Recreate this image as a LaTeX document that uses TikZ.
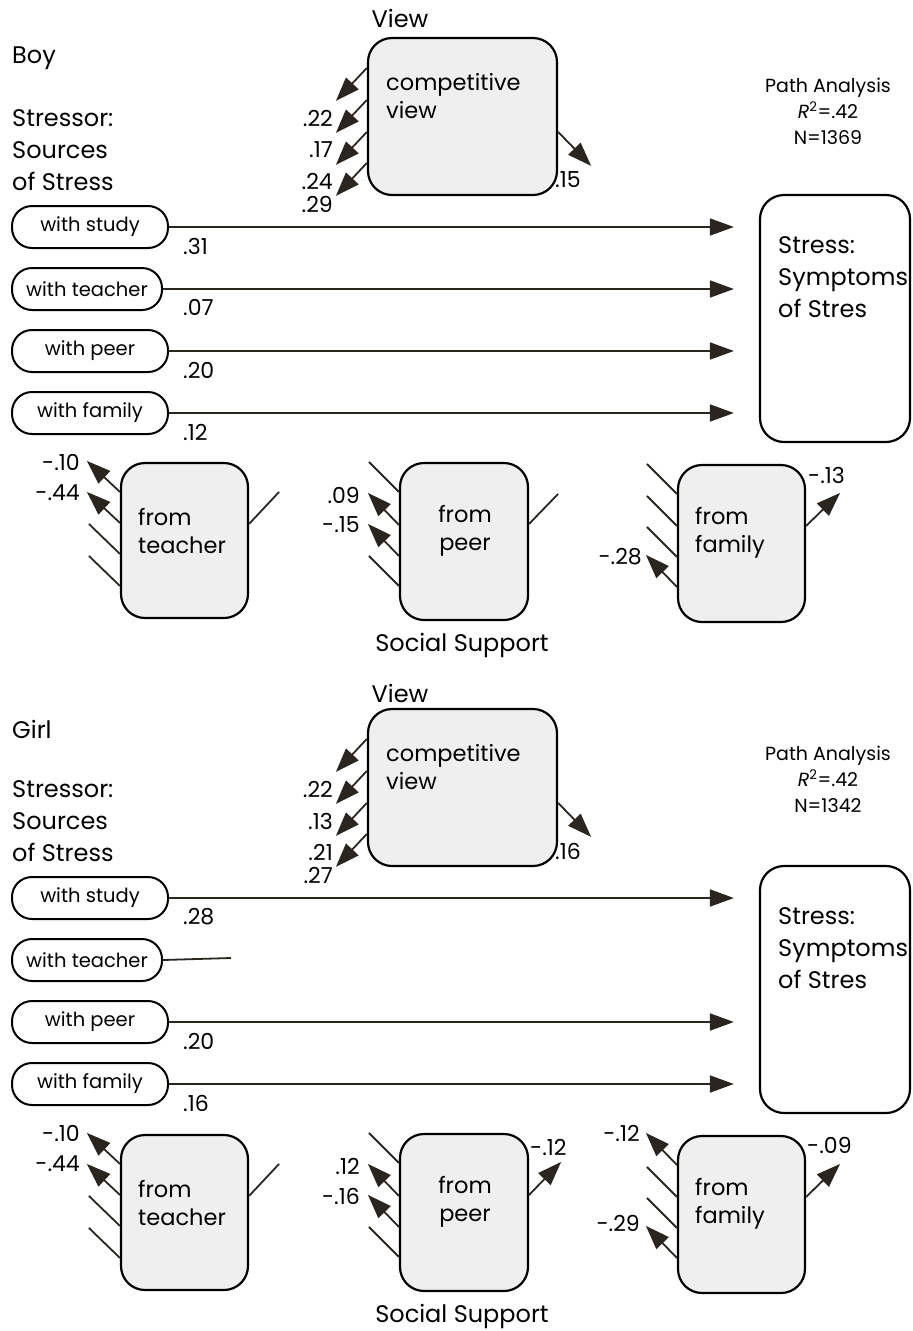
\documentclass[tikz,border=0pt]{standalone}
\usepackage{fontspec}
\setmainfont{Poppins}
\usetikzlibrary{arrows.meta,calc}
\definecolor{boxgray}{HTML}{EFEFEF}
\definecolor{linec}{HTML}{2B2520}
\begin{document}
\begin{tikzpicture}[x=1pt,y=-1pt,
  gbox/.style={draw=black, line width=2.2pt, fill=boxgray, rounded corners=24pt, inner sep=0pt},
  wbox/.style={draw=black, line width=2.2pt, fill=white, rounded corners=24pt, inner sep=0pt},
  oval/.style={draw=black, line width=2pt, fill=white, rounded corners=20pt, inner sep=0pt, minimum height=42pt, font=\fontsize{19.5}{22}\selectfont},
  arr/.style={draw=linec, line width=1.8pt, -{Triangle[length=24pt,width=17pt]}},
  pl/.style={draw=linec, line width=1.8pt},
  big/.style={inner sep=0pt, font=\fontsize{24}{32}\selectfont},
  num/.style={inner sep=0pt, font=\fontsize{22}{24}\selectfont},
  small/.style={inner sep=0pt, font=\fontsize{19}{26}\selectfont},
  btxt/.style={inner sep=0pt, font=\fontsize{22.5}{28}\selectfont}]
\useasboundingbox (0,0) rectangle (913,1331);

% ================= panel 1 (Boy) =================
\begin{scope}
\node[big, anchor=west] (t1) at (12,58) {Boy};
\node[big] (v1) at (400,18) {View};
\node[big, anchor=west, align=left] (s1) at (12,150) {Stressor:\\Sources\\of Stress};
\node[small, align=center] (pa1) at (828,111) {Path Analysis\\\textit{R}\textsuperscript{2}=.42\\N=1369};

\node[gbox, minimum width=189pt, minimum height=157pt] (cv1) at (462.5,116.5) {};
\node[btxt, anchor=west, align=left] (cvt1) at (386,96) {competitive\\view};
\draw[arr] ($(cv1.north west)+(0,31)$) -- ++(-31,33);
\draw[arr] ($(cv1.north west)+(0,63)$) -- ++(-31,33);
\draw[arr] ($(cv1.north west)+(0,95)$) -- ++(-31,33);
\draw[arr] ($(cv1.north west)+(0,126)$) -- ++(-31,33);
\node[num, anchor=east] (c1a) at (333,118) {.22};
\node[num, anchor=east] (c1b) at (333,150) {.17};
\node[num, anchor=east] (c1c) at (333,181) {.24};
\node[num, anchor=east] (c1d) at (333,204) {.29};
\draw[arr] ($(cv1.north east)+(0,95)$) -- ++(33,34);
\node[num, anchor=west] (c1e) at (555,180) {.15};

\node[wbox, minimum width=150pt, minimum height=247pt] (sb1) at (835,318.5) {};
\node[big, anchor=west, align=left] (sbt1) at (778,277) {Stress:\\Symptoms\\of Stres};

\node[oval, minimum width=156pt] (os1) at (90,227) {with study};
\node[oval, minimum width=150pt] (ot1) at (87,289) {with teacher};
\node[oval, minimum width=156pt] (op1) at (90,351) {with peer};
\node[oval, minimum width=156pt] (of1) at (90,413) {with family};
\draw[arr] (os1.east) -- ($(sb1.west |- os1.east)+(-25,0)$);
\draw[arr] (ot1.east) -- ($(sb1.west |- ot1.east)+(-25,0)$);
\draw[arr] (op1.east) -- ($(sb1.west |- op1.east)+(-25,0)$);
\draw[arr] (of1.east) -- ($(sb1.west |- of1.east)+(-25,0)$);
\node[num, anchor=west] (l1a) at (183,246) {.31};
\node[num, anchor=west] (l1b) at (183,307) {.07};
\node[num, anchor=west] (l1c) at (183,370) {.20};
\node[num, anchor=west] (l1d) at (183,432) {.12};

% from teacher
\node[gbox, minimum width=127pt, minimum height=155pt] (tb1) at (184.5,540.5) {};
\node[btxt, anchor=west, align=left] (tbt1) at (138,531) {from\\teacher};
\draw[arr] ($(tb1.north west)+(0,30)$) -- ++(-33,-31);
\draw[arr] ($(tb1.north west)+(0,61)$) -- ++(-33,-31);
\draw[pl]  ($(tb1.north west)+(0,92)$) -- ++(-31,-30);
\draw[pl]  ($(tb1.north west)+(0,124)$) -- ++(-31,-30);
\draw[pl]  ($(tb1.north east)+(0,62)$) -- ++(30,-32);
\node[num, anchor=east] (tl1a) at (80,462) {-.10};
\node[num, anchor=east] (tl1b) at (80,493) {-.44};

% from peer
\node[gbox, minimum width=128pt, minimum height=157pt] (pb1) at (464,541.5) {};
\node[btxt, align=center] (pbt1) at (465,531) {from\\peer};
\draw[pl]  ($(pb1.north west)+(0,30)$) -- ++(-30,-30);
\draw[arr] ($(pb1.north west)+(0,63)$) -- ++(-31,-32);
\draw[arr] ($(pb1.north west)+(0,94)$) -- ++(-31,-32);
\draw[pl]  ($(pb1.north west)+(0,124)$) -- ++(-30,-30);
\draw[pl]  ($(pb1.north east)+(0,62)$) -- ++(29,-30);
\node[num, anchor=east] (pl1a) at (360,495) {.09};
\node[num, anchor=east] (pl1b) at (360,525) {-.15};

% from family
\node[gbox, minimum width=127pt, minimum height=157pt] (fb1) at (741.5,543.5) {};
\node[btxt, anchor=west, align=left] (fbt1) at (695,533) {from\\family};
\draw[pl]  ($(fb1.north west)+(0,30)$) -- ++(-30,-30);
\draw[pl]  ($(fb1.north west)+(0,62)$) -- ++(-30,-30);
\draw[pl]  ($(fb1.north west)+(0,93)$) -- ++(-30,-30);
\draw[arr] ($(fb1.north west)+(0,123)$) -- ++(-31,-32);
\draw[arr] ($(fb1.north east)+(0,62)$) -- ++(34,-33);
\node[num, anchor=east] (fl1a) at (642,557) {-.28};
\node[num, anchor=west] (fl1b) at (808,475) {-.13};

\node[big] (ss1) at (462,645) {Social Support};
\end{scope}

% ================= panel 2 (Girl) =================
\begin{scope}[shift={(0,671)}]
\node[big, anchor=west] (t2) at (12,58) {Girl};
\node[big] (v2) at (400,22) {View};
\node[big, anchor=west, align=left] (s2) at (12,150) {Stressor:\\Sources\\of Stress};
\node[small, align=center] (pa2) at (828,108) {Path Analysis\\\textit{R}\textsuperscript{2}=.42\\N=1342};

\node[gbox, minimum width=189pt, minimum height=157pt] (cv2) at (462.5,116.5) {};
\node[btxt, anchor=west, align=left] (cvt2) at (386,96) {competitive\\view};
\draw[arr] ($(cv2.north west)+(0,31)$) -- ++(-31,33);
\draw[arr] ($(cv2.north west)+(0,63)$) -- ++(-31,33);
\draw[arr] ($(cv2.north west)+(0,95)$) -- ++(-31,33);
\draw[arr] ($(cv2.north west)+(0,126)$) -- ++(-31,33);
\node[num, anchor=east] (c2a) at (333,118) {.22};
\node[num, anchor=east] (c2b) at (333,150) {.13};
\node[num, anchor=east] (c2c) at (333,181) {.21};
\node[num, anchor=east] (c2d) at (333,204) {.27};
\draw[arr] ($(cv2.north east)+(0,95)$) -- ++(33,34);
\node[num, anchor=west] (c2e) at (555,180) {.16};

\node[wbox, minimum width=150pt, minimum height=247pt] (sb2) at (835,318.5) {};
\node[big, anchor=west, align=left] (sbt2) at (778,277) {Stress:\\Symptoms\\of Stres};

\node[oval, minimum width=156pt] (os2) at (90,227) {with study};
\node[oval, minimum width=150pt] (ot2) at (87,289) {with teacher};
\node[oval, minimum width=156pt] (op2) at (90,351) {with peer};
\node[oval, minimum width=156pt] (of2) at (90,413) {with family};
\draw[arr] (os2.east) -- ($(sb2.west |- os2.east)+(-25,0)$);
\draw[pl]  (ot2.east) -- ++(68,-2);
\draw[arr] (op2.east) -- ($(sb2.west |- op2.east)+(-25,0)$);
\draw[arr] (of2.east) -- ($(sb2.west |- of2.east)+(-25,0)$);
\node[num, anchor=west] (l2a) at (183,246) {.28};
\node[num, anchor=west] (l2c) at (183,370) {.20};
\node[num, anchor=west] (l2d) at (183,432) {.16};

% from teacher
\node[gbox, minimum width=127pt, minimum height=155pt] (tb2) at (184.5,541.5) {};
\node[btxt, anchor=west, align=left] (tbt2) at (138,532) {from\\teacher};
\draw[arr] ($(tb2.north west)+(0,30)$) -- ++(-33,-31);
\draw[arr] ($(tb2.north west)+(0,61)$) -- ++(-33,-31);
\draw[pl]  ($(tb2.north west)+(0,92)$) -- ++(-31,-30);
\draw[pl]  ($(tb2.north west)+(0,124)$) -- ++(-31,-30);
\draw[pl]  ($(tb2.north east)+(0,62)$) -- ++(30,-32);
\node[num, anchor=east] (tl2a) at (80,462) {-.10};
\node[num, anchor=east] (tl2b) at (80,493) {-.44};

% from peer
\node[gbox, minimum width=128pt, minimum height=157pt] (pb2) at (464,541.5) {};
\node[btxt, align=center] (pbt2) at (465,531) {from\\peer};
\draw[pl]  ($(pb2.north west)+(0,30)$) -- ++(-30,-30);
\draw[arr] ($(pb2.north west)+(0,63)$) -- ++(-31,-32);
\draw[arr] ($(pb2.north west)+(0,94)$) -- ++(-31,-32);
\draw[pl]  ($(pb2.north west)+(0,124)$) -- ++(-30,-30);
\draw[arr] ($(pb2.north east)+(0,62)$) -- ++(32,-33);
\node[num, anchor=east] (pl2a) at (360,495) {.12};
\node[num, anchor=east] (pl2b) at (360,525) {-.16};
\node[num, anchor=west] (pl2c) at (530,476) {-.12};

% from family
\node[gbox, minimum width=127pt, minimum height=157pt] (fb2) at (741.5,543.5) {};
\node[btxt, anchor=west, align=left] (fbt2) at (695,533) {from\\family};
\draw[arr] ($(fb2.north west)+(0,30)$) -- ++(-31,-32);
\draw[pl]  ($(fb2.north west)+(0,62)$) -- ++(-30,-30);
\draw[pl]  ($(fb2.north west)+(0,93)$) -- ++(-30,-30);
\draw[arr] ($(fb2.north west)+(0,123)$) -- ++(-31,-32);
\draw[arr] ($(fb2.north east)+(0,62)$) -- ++(34,-33);
\node[num, anchor=east] (fl2a) at (640,462) {-.12};
\node[num, anchor=east] (fl2b) at (640,552) {-.29};
\node[num, anchor=west] (fl2c) at (807,474) {-.09};

\node[big] (ss2) at (462,645) {Social Support};
\end{scope}
\end{tikzpicture}
\end{document}
